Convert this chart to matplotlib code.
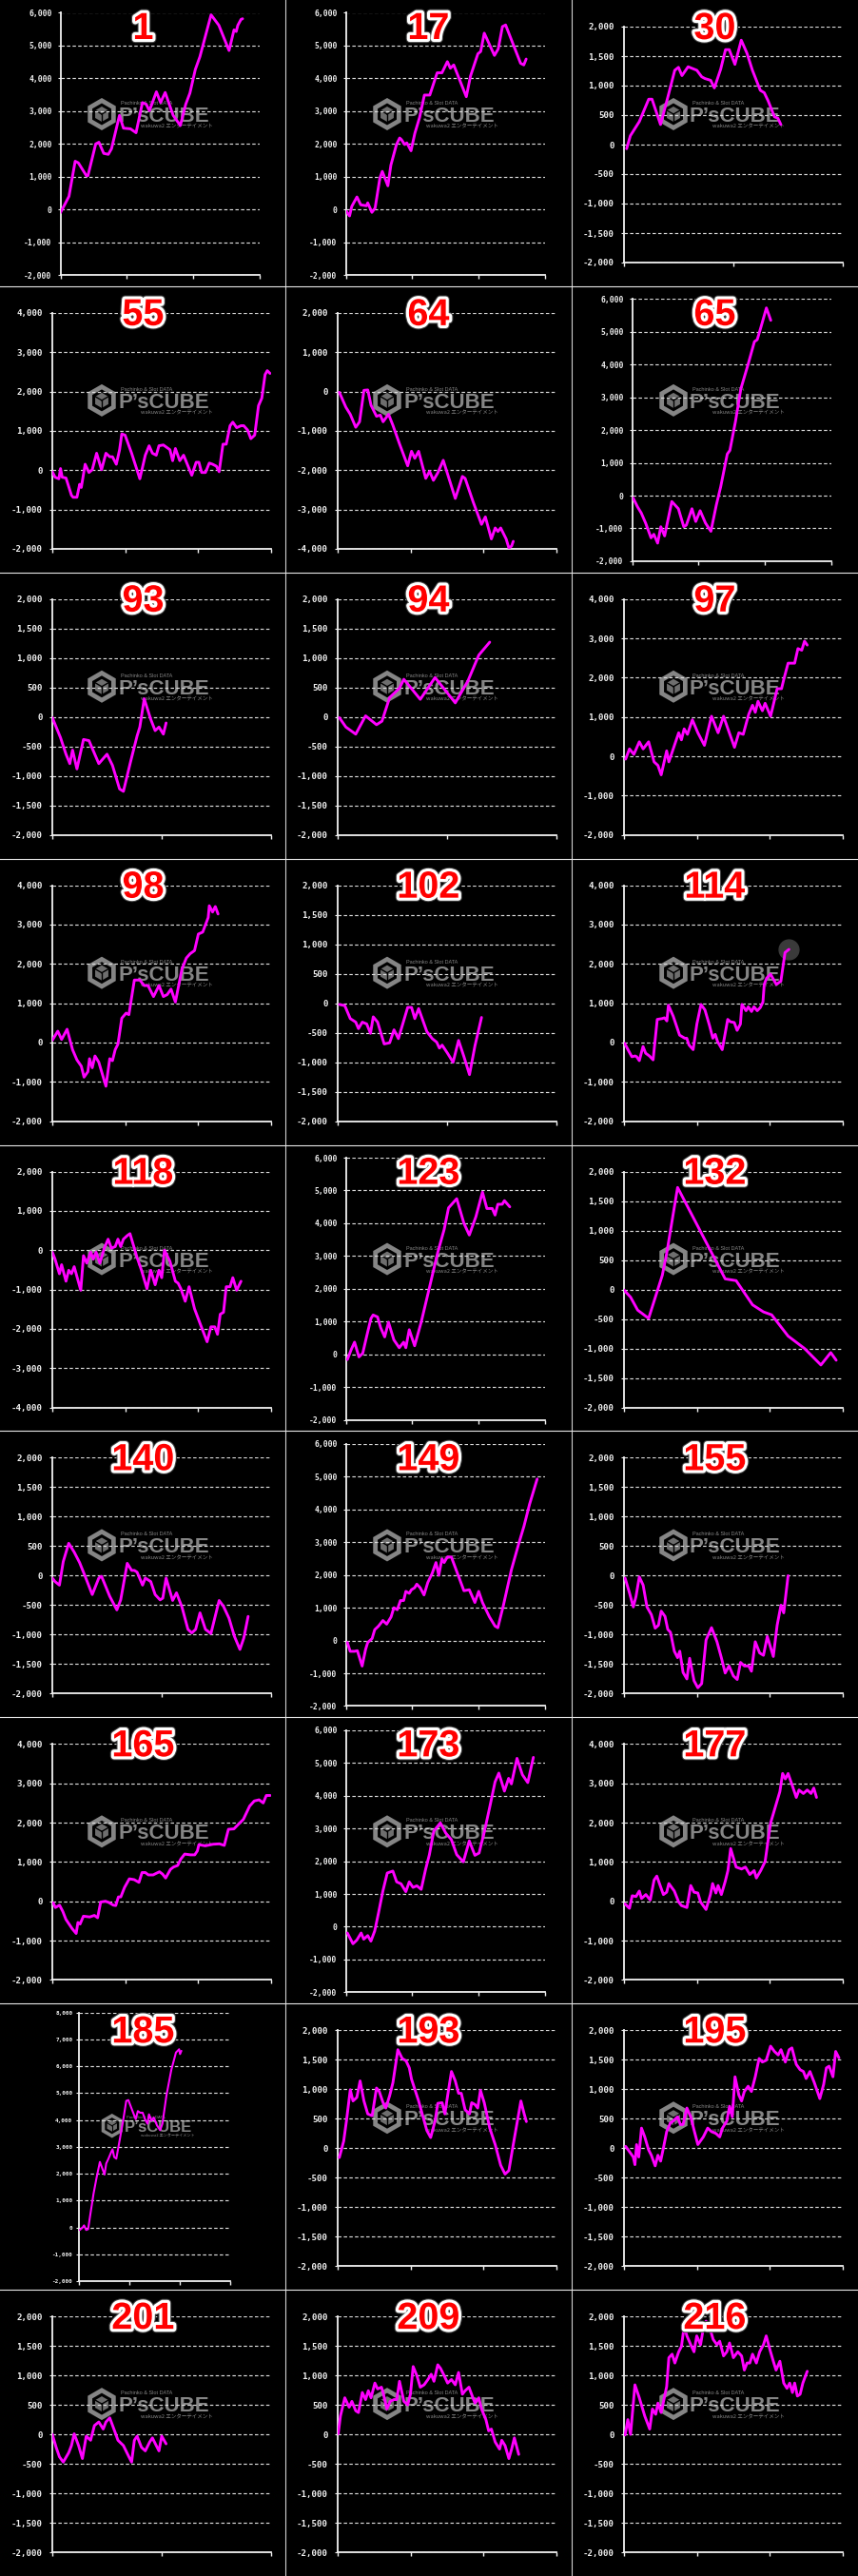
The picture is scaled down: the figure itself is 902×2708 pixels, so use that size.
import matplotlib
matplotlib.use('Agg')
import matplotlib.pyplot as plt
import matplotlib.patheffects as pe
from matplotlib.lines import Line2D
from matplotlib.patches import Polygon
import numpy as np

# each panel: (game progress in % of x axis, coin difference)
p1 = [(0, -100), (2.7, 210), (4.3, 400), (7.4, 1470), (9.0, 1420), (13.0, 1030), (13.8, 1030), (17.7, 2000),
      (19.3, 2050), (21.7, 1710), (24.0, 1680), (25.6, 1850), (29.6, 2870), (31.6, 2480), (35.1, 2460),
      (37.9, 2340), (41.1, 3260), (43.0, 3210), (44.6, 3010), (48.1, 3590), (50.2, 3260), (52.5, 3570),
      (56.5, 2870), (60.1, 2560), (62.8, 3210), (64.9, 3550), (67.6, 4270), (69.9, 4660), (75.5, 5940),
      (79.4, 5620), (84.5, 4850), (87.0, 5480), (88.1, 5430), (88.9, 5620), (90.5, 5800), (91.3, 5820)]
p17 = [(0.3, -60), (1.9, -200), (3.0, 90), (5.6, 380), (7.5, 140), (10.4, 110), (11.0, 200), (13.1, -90),
       (14.7, 40), (17.1, 960), (18.3, 1160), (21.1, 720), (22.6, 1350), (25.4, 1980), (27.0, 2180),
       (27.9, 2130), (29.5, 1980), (30.6, 2030), (32.7, 1790), (34.6, 2320), (37.0, 2810), (39.4, 3490),
       (42.1, 3490), (45.8, 4170), (48.2, 4170), (50.9, 4510), (52.4, 4310), (54.1, 4410), (60.4, 3440),
       (62.5, 4070), (66.2, 4750), (67.6, 4820), (69.4, 5380), (74.5, 4700), (76.4, 4900), (78.5, 5580),
       (80.1, 5630), (87.6, 4460), (89.2, 4410), (90.4, 4590)]
p30 = [(1.2, -70), (2.9, 150), (7.0, 390), (11.3, 770), (12.8, 770), (16.7, 340), (20.0, 800), (23.2, 1260),
       (24.9, 1310), (26.5, 1170), (29.3, 1320), (33.3, 1260), (35.5, 1150), (37.0, 1120), (39.6, 1090),
       (41.3, 960), (44.2, 1280), (46.4, 1610), (48.1, 1610), (50.7, 1360), (53.6, 1770), (56.2, 1550),
       (58.7, 1260), (62.3, 920), (64.1, 880), (65.9, 740), (68.8, 470), (70.3, 450), (71.7, 340)]
p55 = [(0, -40), (1.25, -180), (3, -220), (3.75, 40), (4.5, -180), (6.25, -200), (8.75, -640), (9.5, -690),
       (11.25, -690), (12.5, -360), (13.25, -440), (15, 150), (16.75, -60), (18.25, 10), (20.25, 430),
       (22.5, 10), (24.5, 430), (26.25, 340), (27.5, 340), (29.25, 150), (30.75, 520), (31.75, 920),
       (33.25, 890), (36.25, 430), (40, -220), (42.5, 380), (44.25, 620), (45.75, 430), (47.5, 380),
       (48.75, 620), (50.75, 640), (53.75, 520), (55, 240), (56.25, 550), (58.25, 240), (60, 380),
       (63.75, -130), (65.75, 200), (67, 200), (68.25, -60), (70, -60), (71.75, 180), (73.25, 150),
       (75, 100), (76.25, -40), (78, 660), (79.5, 660), (81.25, 1130), (82.5, 1220), (84.25, 1080),
       (86.25, 1130), (87.5, 1130), (89.25, 1020), (90.75, 800), (92.5, 890), (94.25, 1640), (95.75, 1830),
       (97.25, 2430), (98.25, 2530), (99.5, 2460)]
p64 = [(0.75, -20), (3.75, -400), (5.75, -580), (8.25, -910), (10, -770), (12, 30), (13.75, 40), (15.25, -350),
       (17.75, -630), (19.5, -600), (20.75, -770), (23.25, -580), (25.25, -860), (28.25, -1330), (32, -1890),
       (33.75, -1520), (35.25, -1700), (37, -1520), (40.25, -2210), (42, -2030), (43.75, -2260), (45.75, -2070),
       (48.25, -1750), (53.75, -2720), (57, -2160), (58.25, -2210), (62, -2820), (65.75, -3380), (67.5, -3190),
       (70.25, -3750), (72, -3470), (73.25, -3560), (74.5, -3470), (77, -3750), (78.25, -3980), (79.5, -3930),
       (80.25, -3810)]
p65 = [(0.5, -70), (2.7, -340), (4.6, -530), (6.8, -840), (9.5, -1290), (10.9, -1180), (12.8, -1450),
       (14.4, -950), (16.3, -1230), (19.9, -180), (23.2, -400), (25.9, -950), (27.2, -900), (30, -400),
       (31.9, -790), (34.1, -460), (36.8, -840), (39.5, -1090), (42.2, -290), (44.4, 270), (47.7, 1270),
       (49, 1380), (51.8, 2260), (54.5, 3260), (58, 3980), (61.3, 4700), (62.7, 4760), (64.6, 5150),
       (67.3, 5730), (69.5, 5350)]
p93 = [(0, -10), (3.75, -350), (6.25, -630), (8, -790), (9.25, -560), (11.25, -880), (14.25, -380),
       (16.75, -400), (21.25, -790), (25, -630), (27.5, -820), (30.75, -1220), (32.5, -1260), (35.75, -760),
       (38.75, -320), (40, -170), (42, 310), (45, -40), (47, -230), (48.75, -170), (50.75, -290), (52, -100)]
p94 = [(0.75, -10), (3.75, -170), (8.25, -290), (12.75, 20), (17.75, -130), (20.25, -70), (23.75, 330),
       (28.25, 490), (30.25, 640), (37.75, 300), (44.5, 670), (53.75, 240), (59.5, 610), (64.5, 1050),
       (69.5, 1270)]
p97 = [(0.75, -70), (2.5, 190), (4.5, 50), (7, 370), (8.75, 190), (11.25, 370), (13.75, -140), (15.5, -230),
       (17, -470), (19.5, 140), (20.5, -140), (25, 600), (26.25, 420), (27.5, 700), (29, 560), (31.25, 930),
       (33.75, 600), (36.75, 280), (40, 1020), (43, 600), (45.5, 1020), (47.5, 700), (50.5, 230), (52.5, 600),
       (54.5, 560), (57, 1070), (58.75, 1300), (60, 1120), (61.25, 1400), (63.25, 1160), (64.5, 1350),
       (67, 1020), (70, 1720), (72, 1720), (73, 1950), (75, 2370), (78, 2370), (79.5, 2740), (81.25, 2700),
       (82.5, 2930), (83.75, 2830)]
p98 = [(0, 60), (2.5, 290), (4.25, 80), (6.75, 340), (9.25, -180), (11.25, -440), (13.25, -600), (14.5, -880),
       (16.25, -740), (17, -410), (18.25, -640), (19.5, -340), (21.25, -500), (24.5, -1110), (26.25, -410),
       (27.5, -460), (28.75, -180), (30, -40), (31.75, 620), (33.75, 750), (35, 710), (37.5, 1590), (40, 1590),
       (42, 1450), (43.75, 1450), (46.25, 1170), (48.75, 1450), (50.75, 1170), (52.5, 1220), (54.25, 1360),
       (56.25, 1030), (59.25, 1870), (61.25, 2150), (63, 2260), (65, 2340), (66.75, 2760), (68.75, 2810),
       (71.25, 3180), (71.75, 3480), (73.25, 3320), (74.5, 3460), (75.75, 3270)]
p102 = [(0.75, -20), (3.25, -40), (5.75, -260), (8.25, -320), (9.5, -430), (11.25, -320), (13.25, -350),
        (15, -510), (16.25, -230), (18.25, -320), (21.25, -690), (23.75, -670), (25.75, -450), (27.75, -600),
        (32, -70), (33.75, -70), (35.25, -260), (37, -90), (40.75, -480), (43.25, -600), (45.25, -660),
        (46.5, -760), (47.75, -710), (50.25, -850), (52.75, -1000), (55.25, -630), (57.75, -910),
        (60.25, -1210), (62.75, -720), (65.75, -240)]
p114 = [(0.3, -20), (2.2, -220), (3.6, -360), (5.1, -340), (5.8, -360), (7.0, -460), (8.7, -100), (9.9, -270),
        (11.6, -340), (13.3, -440), (15.2, 590), (17.4, 610), (18.5, 630), (19.6, 550), (20.3, 950), (22.5, 670),
        (25.4, 190), (27.8, 110), (28.7, 110), (29.7, -60), (31.6, -180), (33.3, 470), (35.2, 970), (37, 830),
        (39.1, 430), (40.6, 110), (41.7, 210), (42.8, 20), (44.9, -180), (47.4, 590), (48.6, 530), (50.4, 510),
        (51.7, 310), (53.2, 470), (53.9, 970), (55.8, 810), (56.8, 910), (58.3, 790), (59.4, 910), (60.9, 810),
        (62.3, 890), (63.5, 1030), (64.1, 1480), (65.2, 1640), (67, 1740), (69.6, 1480), (71.7, 1560),
        (73.6, 2290), (75.4, 2370)]
p118 = [(0, -50), (1.25, -230), (3.25, -600), (4.25, -370), (6.25, -790), (7.5, -510), (8.75, -600), (10, -420),
        (13, -1020), (14.25, -140), (15.75, -330), (17.5, -50), (18.75, -230), (20, -50), (21.75, -330),
        (23.75, 50), (25.5, 280), (27, 50), (28.75, 90), (30, 280), (31.25, 90), (32.5, 280), (34.25, 370),
        (35.5, 420), (38.75, -190), (40.75, -510), (43.25, -980), (45, -510), (47, -880), (48.75, -510),
        (50, -700), (51.25, 0), (53.75, -280), (56.25, -790), (57.5, -840), (58.75, -980), (60.75, -1300),
        (62.5, -930), (65, -1490), (67.5, -1860), (70.75, -2330), (72.5, -1950), (74.25, -1950), (75.5, -2140),
        (76.75, -1630), (78.25, -1580), (79.5, -930), (81.25, -930), (82.5, -700), (84.25, -1020), (86.25, -790)]
p123 = [(0.8, -160), (2.7, 140), (4.4, 370), (6.6, -80), (8.5, 30), (10.4, 530), (12.6, 1090), (13.7, 1200),
        (15.9, 1140), (17.5, 810), (19.5, 530), (21.4, 980), (24.1, 440), (26.8, 200), (29, 370), (30.1, 200),
        (31.8, 750), (34.5, 260), (37.8, 980), (41.9, 2030), (46, 3090), (49.3, 3810), (51.5, 4470),
        (55.6, 4750), (59.2, 4000), (61.9, 3640), (65.2, 4200), (68.5, 4950), (70.7, 4450), (73.4, 4450),
        (74.8, 4250), (76.2, 4580), (78.4, 4580), (79.5, 4690), (82.2, 4500)]
p132 = [(0, -10), (3, -130), (6.25, -350), (11.25, -490), (17.5, 240), (19.5, 610), (24.5, 1730), (46.25, 180),
        (51.25, 150), (58.75, -260), (63.75, -380), (67.5, -430), (75, -790), (82.5, -1000), (90, -1280),
        (94.5, -1070), (97, -1200)]
p140 = [(0, -40), (1.25, -100), (3.25, -160), (5, 240), (7.5, 550), (10, 400), (12.5, 220), (15, -10),
        (18.25, -320), (21.25, -40), (22.5, -10), (26.25, -350), (29.5, -580), (31.25, -410), (34.25, 210),
        (36.25, 90), (37.5, 90), (38.75, 60), (41.25, -160), (42.5, -40), (45, -100), (47, -320), (49.25, -410),
        (50.5, -380), (52, -40), (55, -420), (56.75, -290), (59.25, -530), (62, -910), (63.75, -970),
        (65.5, -910), (67.5, -630), (70, -910), (72.5, -980), (76.25, -420), (78.25, -520), (80.75, -720),
        (83.25, -1030), (85.75, -1250), (87.5, -1060), (89.5, -690)]
p149 = [(0.8, -60), (2.2, -330), (4.4, -330), (5.8, -310), (8.2, -780), (9.9, -280), (11, -60), (13.2, 60),
        (14.5, 330), (16.4, 440), (18.6, 610), (20.5, 500), (22.7, 720), (24.1, 1000), (25.8, 940), (27.4, 1220),
        (29, 1220), (30.1, 1500), (31.8, 1440), (32.9, 1550), (34.5, 1610), (35.6, 1720), (37.3, 1610),
        (39.2, 1390), (41.1, 1770), (43.3, 2050), (45.2, 2380), (46.6, 1990), (48.2, 2490), (49.3, 2380),
        (50.9, 2550), (52.9, 2550), (55.6, 2110), (59.2, 1520), (61.9, 1550), (64.7, 1160), (66.6, 1500),
        (68.5, 1160), (72, 720), (74.8, 440), (76.2, 390), (78.9, 1050), (83, 2160), (86.6, 2940), (89.3, 3490),
        (92.1, 4160), (95.9, 4930)]
p155 = [(0.5, -40), (2.5, -290), (4.25, -530), (5.5, -350), (7, -20), (8.75, -160), (10.5, -530), (12.5, -660),
        (14.25, -890), (15.75, -840), (17, -600), (18.75, -690), (20, -910), (21.25, -960), (23, -1280),
        (24.5, -1390), (25.5, -1280), (27, -1640), (28.75, -1750), (30, -1400), (32, -1780), (33.75, -1900),
        (35.5, -1830), (37.5, -1090), (40, -880), (42.5, -1120), (44.5, -1390), (46.25, -1650), (48, -1530),
        (50, -1700), (51.75, -1760), (53.25, -1470), (55, -1530), (57, -1530), (58.25, -1620), (60, -1120),
        (62, -1310), (63.75, -1350), (65.5, -1030), (68.25, -1370), (70, -840), (71.75, -500), (73, -630),
        (75, 0)]
p165 = [(0.4, -40), (1.4, -160), (3.3, -100), (4.8, -260), (6.2, -460), (9.1, -700), (10.9, -820), (11.7, -540),
        (12.7, -580), (14.2, -380), (17.1, -400), (19.2, -360), (20.7, -420), (22.1, -20), (24.3, 0),
        (25.8, -30), (27.9, -100), (29, -110), (30.2, 110), (31.3, 110), (33, 350), (35.2, 570), (37.4, 550),
        (39.6, 480), (41, 730), (42.5, 730), (43.9, 670), (46.1, 670), (47.5, 710), (49, 750), (50.4, 690),
        (51.8, 590), (54, 810), (55.4, 870), (57.3, 910), (58.7, 1070), (60.5, 1200), (63.1, 1180),
        (65.1, 1180), (66.3, 1280), (67, 1440), (69.9, 1410), (73.5, 1450), (76.4, 1460), (78.6, 1420),
        (80.5, 1830), (83, 1840), (85.1, 1960), (87.3, 2080), (90.2, 2420), (92.3, 2550), (94.5, 2580),
        (96.4, 2500), (97.8, 2690), (99.6, 2690)]
p173 = [(0.8, -190), (3.6, -520), (5.5, -410), (7.7, -190), (9, -380), (11, -270), (12.6, -440), (14.5, -130),
        (16.4, 420), (18.6, 1090), (20.8, 1640), (23.6, 1700), (25.5, 1370), (27.7, 1310), (30.1, 1070),
        (31.8, 1370), (33.7, 1200), (35.6, 1250), (37.8, 1140), (40, 1750), (41.9, 2200), (44.1, 2920),
        (47.4, 3170), (50.1, 2860), (52.9, 2660), (55.6, 2200), (58.9, 1980), (61.9, 2620), (64.7, 2180),
        (66.8, 2250), (69.3, 2860), (72.1, 3640), (74.8, 4420), (76.7, 4690), (79.5, 4140), (81.6, 4530),
        (83, 4360), (85.8, 5140), (88.5, 4640), (91.2, 4400), (94, 5170)]
p177 = [(0.5, -70), (2.5, -180), (3.75, 140), (5.5, 120), (7, 260), (8, 70), (10, 170), (12, 30), (13.75, 540),
        (15, 640), (18, 170), (19.5, 230), (20.5, 450), (23, 260), (25, -20), (26.25, -110), (28.75, -160),
        (30.5, 400), (32, 230), (33.75, 210), (35, -20), (37.5, -210), (39.5, 170), (40.5, 450), (42, 210),
        (43, 400), (44.5, 170), (46.25, 500), (47.5, 780), (48.75, 1340), (51.25, 870), (53.75, 820),
        (55.5, 870), (57.5, 680), (59.5, 780), (60.5, 590), (62.5, 780), (64.5, 1010), (67, 1990), (69.5, 2460),
        (71.25, 2790), (72.5, 3250), (73.75, 3110), (75, 3250), (77, 2930), (78.75, 2640), (80, 2830),
        (82, 2740), (83.75, 2830), (85.5, 2740), (86.75, 2880), (88, 2640)]
p185 = [(0.4, -90), (2.5, 20), (3.2, 80), (4.6, -90), (5.9, -60), (7.4, 500), (9.5, 1260), (11.6, 1880),
        (13.7, 2440), (16.8, 1970), (17.9, 2380), (19.4, 2560), (21.1, 2790), (22.1, 2910), (23.2, 2620),
        (24.6, 2560), (26.9, 3270), (29.1, 3970), (31.2, 4710), (32.6, 4740), (35.8, 4270), (37.5, 4030),
        (38.9, 4330), (40.4, 4270), (42.1, 4270), (43.6, 4030), (45.3, 3860), (46.3, 4210), (48, 3970),
        (49.5, 4090), (51.6, 3800), (53.7, 3620), (55.2, 3860), (57.9, 4920), (61.1, 5860), (64.2, 6510),
        (66.3, 6630), (66.9, 6450), (67.8, 6570)]
p193 = [(0.75, -160), (2.75, 120), (4, 460), (5.75, 990), (7, 800), (8.75, 860), (10.25, 1140), (12, 800),
        (13.75, 580), (15.75, 550), (17.75, 1020), (19, 960), (20.75, 770), (22, 680), (23.75, 890),
        (25.25, 1110), (27.5, 1670), (29.5, 1520), (31.25, 1480), (32.75, 1360), (33.75, 1170), (37, 800),
        (40.75, 300), (42.5, 180), (44.5, 460), (45.75, 760), (47.75, 770), (49, 580), (50.25, 890), (52, 1300),
        (53.75, 1140), (55.25, 930), (56.5, 930), (58.25, 650), (60.25, 580), (61.25, 770), (62.75, 740),
        (64, 680), (65.25, 980), (67, 770), (69.5, 340), (72, 60), (74.5, -290), (76.5, -440), (78.25, -380),
        (80.25, 60), (82, 430), (83.75, 800), (85.25, 580), (86.25, 450)]
p195 = [(0.75, 30), (2.5, -60), (4.25, -150), (5, -280), (5.75, 60), (6.75, -150), (8, 340), (9.5, 190),
        (11.25, -30), (12.5, -120), (14.25, -300), (15.5, -120), (16.75, -220), (18, 0), (19.5, 280),
        (21.25, 430), (22.5, 460), (24.5, 530), (25.75, 400), (27, 400), (28.75, 680), (30.5, 530), (32, 310),
        (33.75, 60), (36.25, 190), (38.25, 340), (40, 280), (42, 250), (43.75, 190), (45, 340), (47, 460),
        (48.25, 710), (49.5, 530), (50.75, 1210), (52.5, 900), (53.75, 800), (55, 960), (56.75, 1050),
        (58.25, 960), (60, 1210), (61.75, 1520), (63.25, 1460), (65, 1490), (67, 1730), (68.75, 1640),
        (70.5, 1580), (71.75, 1670), (73.75, 1460), (75.5, 1670), (76.75, 1700), (78.75, 1420), (80.5, 1330),
        (82, 1300), (83.25, 1180), (85, 1300), (87, 1110), (89.5, 840), (91.25, 1080), (92.5, 1360),
        (93.75, 1390), (95.5, 1210), (96.75, 1640), (98.25, 1530)]
p201 = [(0, 0), (1.75, -220), (3.25, -380), (5, -470), (7.5, -310), (8.75, -190), (10, 10), (12, -190),
        (13.75, -410), (15.5, -30), (17.5, -100), (19.25, 150), (21.25, 210), (23.25, 90), (24.5, 210),
        (26.25, 280), (28.75, 30), (30, -100), (32.5, -190), (35, -380), (36.25, -470), (37.5, -100),
        (38.75, -30), (40.75, -220), (42.5, -280), (44.5, -130), (45.75, -60), (47.5, -190), (48.75, -280),
        (50, -30), (52, -160)]
p209 = [(0.25, 10), (1.25, 310), (3.25, 620), (5.25, 460), (6.5, 560), (8.25, 400), (9.5, 370), (11.25, 710),
        (12.75, 590), (14, 740), (15.25, 620), (17, 870), (18.25, 770), (20, 800), (20.75, 710), (22.5, 430),
        (24, 560), (25.75, 590), (27, 590), (28.25, 900), (30.25, 560), (32, 500), (33.25, 680), (34.5, 1150),
        (36.25, 990), (37.75, 800), (39.5, 840), (41.25, 930), (42.75, 1020), (44, 900), (45.75, 1180),
        (47, 1120), (48.75, 990), (50.25, 870), (52, 930), (53.75, 840), (55.25, 1050), (57, 680), (58.25, 740),
        (60, 800), (61.5, 650), (62.75, 530), (64.5, 620), (65.75, 430), (67.75, 250), (69, 60), (70.25, 90),
        (72, -130), (74, -250), (75, -100), (76.5, -190), (78.25, -410), (79.5, -250), (80.75, -60),
        (82.75, -340)]
p216 = [(0.5, -10), (1.75, 250), (3, 0), (5, 840), (7, 620), (9.5, 310), (11.75, 90), (13, 430), (14.5, 340),
        (15.5, 530), (17, 370), (18.25, 590), (19.5, 810), (20.5, 1300), (22, 1360), (23.25, 1210), (25, 1400),
        (26.25, 1490), (27.5, 1830), (28.75, 1670), (30.5, 1520), (32, 1400), (33.25, 1670), (35, 1520),
        (36.25, 1800), (37.5, 1920), (39.25, 1800), (40.75, 1610), (42.5, 1520), (43.75, 1580), (45.5, 1330),
        (47, 1400), (48.25, 1550), (50, 1300), (52, 1400), (53.75, 1330), (55, 1090), (56.25, 1210),
        (57.5, 1210), (58.75, 1360), (60.5, 1210), (62, 1400), (63.75, 1520), (65, 1670), (66.75, 1430),
        (68.25, 1240), (69.5, 1090), (71.25, 1240), (73, 870), (74.5, 780), (75.75, 870), (77, 710), (78, 870),
        (79.25, 650), (80.5, 680), (81.75, 870), (83.75, 1070)]

titles = ['1', '17', '30', '55', '64', '65', '93', '94', '97', '98', '102', '114', '118', '123',
          '132', '140', '149', '155', '165', '173', '177', '185', '193', '195', '201', '209', '216']
series = [p1, p17, p30, p55, p64, p65, p93, p94, p97, p98, p102, p114, p118, p123,
          p132, p140, p149, p155, p165, p173, p177, p185, p193, p195, p201, p209, p216]
y_min = [-2000, -2000, -2000, -2000, -4000, -2000, -2000, -2000, -2000, -2000, -2000, -2000, -4000, -2000,
         -2000, -2000, -2000, -2000, -2000, -2000, -2000, -2000, -2000, -2000, -2000, -2000, -2000]
y_max = [6000, 6000, 2000, 4000, 2000, 6000, 2000, 2000, 4000, 4000, 2000, 4000, 2000, 6000,
         2000, 2000, 6000, 2000, 4000, 6000, 4000, 8000, 2000, 2000, 2000, 2000, 2000]
y_step = [1000, 1000, 500, 1000, 1000, 1000, 500, 500, 1000, 1000, 500, 1000, 1000, 1000,
          500, 500, 1000, 500, 1000, 1000, 1000, 1000, 500, 500, 500, 500, 500]
x_div = [3, 3, 2, 3, 3, 3, 2, 2, 3, 3, 2, 3, 3, 3, 3, 2, 3, 3, 3, 3, 3, 3, 3, 3, 2, 3, 3]
kind = ['B', 'B', 'A', 'A', 'A', 'B', 'A', 'A', 'A', 'A', 'A', 'A', 'A', 'B',
        'A', 'A', 'B', 'A', 'A', 'B', 'A', 'C', 'A', 'A', 'A', 'A', 'A']

W, H = 902, 2708
COL_X = [0, 300, 601]
ROW_H = H / 9
# left, right, top, bottom (px inside panel), tick font, line width, tick pad
LAYOUT = {'A': (55, 285, 28, 276, 6.6, 2.1, 5.5),
          'B': (63.5, 273.3, 13.5, 289, 5.8, 2.1, 4.5),
          'C': (83.3, 241.7, 9.3, 292, 4.3, 1.5, 3.0)}


def fx(px):
    return px / W


def fy(py):
    return 1 - py / H


def hexagon(cx, cy, r):
    ang = np.deg2rad(90 + 60 * np.arange(6))
    return [(fx(cx + r * np.cos(a)), fy(cy - r * np.sin(a))) for a in ang]


fig = plt.figure(figsize=(W / 100, H / 100), dpi=100, facecolor='black')


def watermark(cx, cy, s):
    g = '#858585'
    hx, hy = cx - 43 * s, cy + 2 * s
    fig.add_artist(Polygon(hexagon(hx, hy, 17 * s), closed=True, fc=g, ec='none', zorder=-2,
                           transform=fig.transFigure))
    fig.add_artist(Polygon(hexagon(hx, hy, 11.5 * s), closed=True, fc='black', ec='none', zorder=-2,
                           transform=fig.transFigure))
    fig.add_artist(Polygon(hexagon(hx, hy, 8 * s), closed=True, fc='#6e6e6e', ec='none', zorder=-2,
                           transform=fig.transFigure))
    for a in (30, 150, 270):
        t = np.deg2rad(a)
        fig.add_artist(Line2D([fx(hx), fx(hx + 8 * s * np.cos(t))], [fy(hy), fy(hy - 8 * s * np.sin(t))],
                              color='black', lw=1.0 * s, zorder=-2, transform=fig.transFigure))
    fig.text(fx(cx - 26 * s), fy(cy + 10 * s), 'P\u2019sCUBE', fontsize=16 * s, fontweight='bold',
             color=g, ha='left', va='baseline', zorder=-2, family='Liberation Sans')
    fig.text(fx(cx - 23 * s), fy(cy - 8 * s), 'Pachinko & Slot DATA', fontsize=4.0 * s,
             color=g, ha='left', va='baseline', zorder=-2, family='Liberation Sans')
    fig.text(fx(cx - 2 * s), fy(cy + 17 * s), 'wakuwa2 エンターテイメント', fontsize=4.0 * s,
             color=g, ha='left', va='baseline', zorder=-2, family=['Noto Sans CJK JP', 'DejaVu Sans'])


for i, (name, pts) in enumerate(zip(titles, series)):
    r, c = divmod(i, 3)
    x0, y0 = COL_X[c], r * ROW_H
    L, R, T, B, fs, lw, pad = LAYOUT[kind[i]]
    ax = fig.add_axes([fx(x0 + L), fy(y0 + B), (R - L) / W, (B - T) / H])
    ax.set_facecolor('none')

    xs = [p[0] for p in pts]
    ys = [p[1] for p in pts]
    if name == '114':
        ax.plot(xs[-1:], ys[-1:], 'o', ms=15, color='#3a3a3a', zorder=2)
    ax.plot(xs, ys, color='#ff00ff', lw=lw, solid_joinstyle='round', solid_capstyle='round', zorder=3)

    ax.set_xlim(0, 100)
    ax.set_ylim(y_min[i], y_max[i])
    yt = np.arange(y_min[i], y_max[i] + 1, y_step[i])
    ax.set_yticks(yt)
    ax.set_yticklabels([f'{v:,}' for v in yt], family='DejaVu Sans Mono', fontweight='bold',
                       fontsize=fs, color='#f2f2f2')
    ax.set_xticks(np.linspace(0, 100, x_div[i] + 1))
    ax.tick_params(axis='x', direction='out', length=3, width=1.0, color='#f2f2f2', labelbottom=False)
    ax.tick_params(axis='y', direction='out', length=2, width=0.8, color='#f2f2f2', pad=pad)
    ax.grid(axis='y', color='#dcdcdc', lw=0.85, linestyle=(0, (3, 2)), zorder=1)
    ax.grid(axis='x', visible=False)
    for side in ('top', 'right'):
        ax.spines[side].set_visible(False)
    for side in ('left', 'bottom'):
        ax.spines[side].set_color('#f2f2f2')
        ax.spines[side].set_linewidth(1.3)

    s = 0.75 if kind[i] == 'C' else 1.0
    watermark(x0 + 150, y0 + (127 if kind[i] == 'C' else 118), s)

    fig.text(fx(x0 + 150.5), fy(y0 + 41), name, ha='center', va='baseline', fontsize=28.5,
             fontweight='bold', color='#ff0000', family='Liberation Sans', zorder=5,
             path_effects=[pe.Stroke(linewidth=6, foreground='#404040'),
                           pe.Stroke(linewidth=4.5, foreground='white'), pe.Normal()])

# panel separators
for xv in COL_X[1:]:
    fig.add_artist(Line2D([fx(xv), fx(xv)], [0, 1], color='#cfcfcf', lw=0.8, transform=fig.transFigure))
for rr in range(1, 9):
    fig.add_artist(Line2D([0, 1], [fy(rr * ROW_H), fy(rr * ROW_H)], color='#e6e6e6', lw=0.8,
                          transform=fig.transFigure))

fig.savefig('out.png', dpi=100, facecolor='black')
